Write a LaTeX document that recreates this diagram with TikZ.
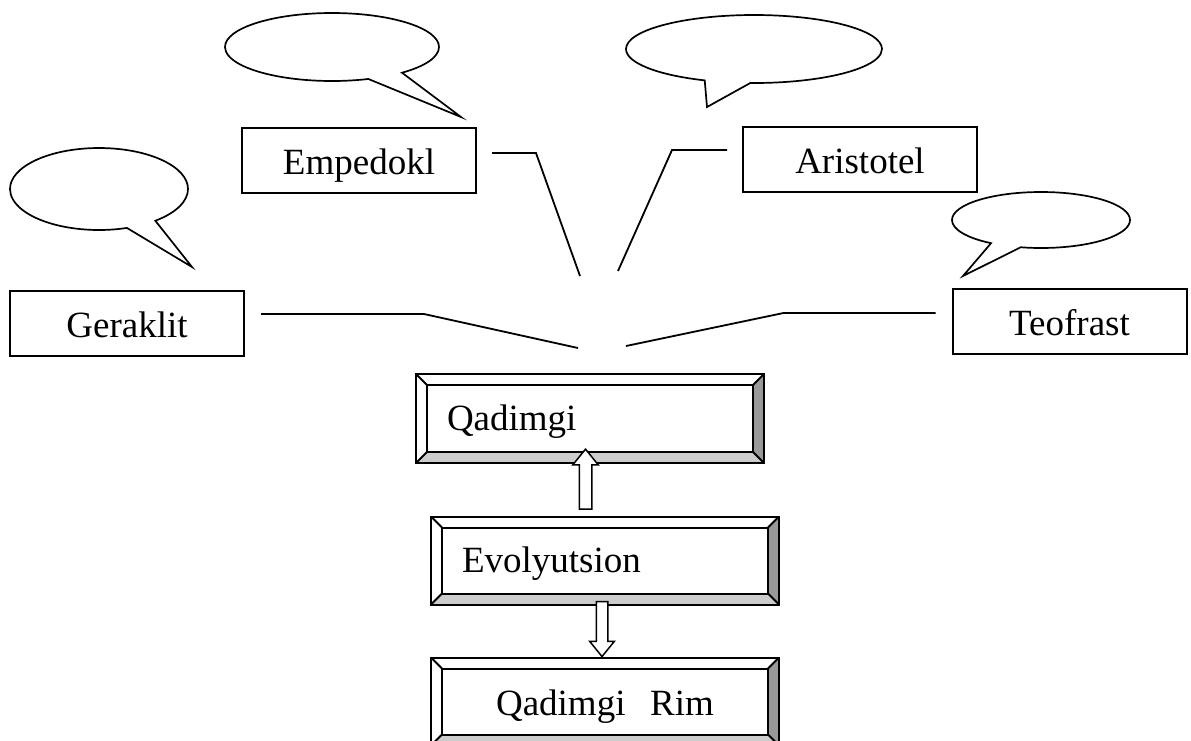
\documentclass[tikz,border=0pt]{standalone}
\usepackage{fontspec}
\setmainfont{Liberation Serif}
\usetikzlibrary{calc,shapes.callouts,shapes.arrows}

\begin{document}
\begin{tikzpicture}[x=1pt,y=-1pt,line width=2pt,
                name node/.style={rectangle,draw,fill=white,inner sep=0pt,text height=28pt,text depth=0pt,
                  minimum width=234pt,minimum height=65pt,font=\fontsize{37}{44}\selectfont},
                bevel node/.style={rectangle,inner xsep=30pt,inner ysep=0pt,text width=286pt,
                  text height=23pt,text depth=0pt,minimum height=86pt,align=left,font=\fontsize{37}{44}\selectfont},
                cloud node/.style={ellipse callout,draw,fill=white,inner sep=0pt,line width=1.7pt,callout pointer arc=21},
                fat arrow/.style={single arrow,draw,fill=white,line width=1.5pt,inner xsep=0pt,
                  single arrow tip angle=78},
                link/.style={line width=1.8pt}]
	\useasboundingbox (0,0) rectangle (1191,740);
	\clip (0,0) rectangle (1191,740);

	\node[name node] (gerak) at (127,323.5) {Geraklit};
	\node[name node] (emped) at (359,160.5) {Empedokl};
	\node[name node] (arist) at (860,159.5) {Aristotel};
	\node[name node] (teof) at (1069.5,321.5) {Teofrast};

	\node[cloud node,minimum width=178pt,minimum height=82pt,callout absolute pointer={(192,267)}] (c-gerak) at (99,189) {};
	\node[cloud node,minimum width=214pt,minimum height=68pt,callout absolute pointer={(461,117)}] (c-emped) at (332,47) {};
	\node[cloud node,minimum width=256pt,minimum height=68pt,callout absolute pointer={(707,107)}] (c-arist) at (754,49) {};
	\node[cloud node,minimum width=178pt,minimum height=56pt,callout absolute pointer={(963,276)}] (c-teof) at (1041,220) {};

	\node[bevel node,minimum height=87pt] (qad) at (590,418.5) {Qadimgi};
	\node[bevel node] (evo) at (605,560.5) {Evolyutsion};
	\node[bevel node,align=center,text height=27pt] (rim) at (605,701.5) {Qadimgi\ \ Rim};

	\foreach \b in {qad,evo,rim} {
		\coordinate (\b-nw) at ($(\b.north west)+(11,11)$);
		\coordinate (\b-ne) at ($(\b.north east)+(-11,11)$);
		\coordinate (\b-se) at ($(\b.south east)+(-11,-11)$);
		\coordinate (\b-sw) at ($(\b.south west)+(11,-11)$);
		\fill[black!40] (\b.north east) -- (\b.south east) -- (\b-se) -- (\b-ne) -- cycle;
		\fill[black!20] (\b.south west) -- (\b.south east) -- (\b-se) -- (\b-sw) -- cycle;
		\draw (\b.north west) rectangle (\b.south east);
		\draw (\b-nw) rectangle (\b-se);
		\draw (\b.north west) -- (\b-nw) (\b.north east) -- (\b-ne)
		      (\b.south east) -- (\b-se) (\b.south west) -- (\b-sw);
	}

	\coordinate (to-gerak) at (578,348);
	\coordinate (to-emped) at (580,276);
	\coordinate (to-arist) at (618,271);
	\coordinate (to-teof) at (626,346);

	\draw[link] ([shift={(16,-9.5)}]gerak.east) -- ++(163,0) -- (to-gerak);
	\draw[link] ([shift={(15,-7.5)}]emped.east) -- ++(44,0) -- (to-emped);
	\draw[link] ([shift={(-15,-9.5)}]arist.west) -- ++(-55,0) -- (to-arist);
	\draw[link] ([shift={(-16,-8.5)}]teof.west) -- ++(-152,0) -- (to-teof);

	\node[fat arrow,rotate=90,inner ysep=5.5pt,minimum height=60pt,single arrow head extend=6.5pt] (up) at (585.5,483) {};
	\node[fat arrow,rotate=-90,inner ysep=5pt,minimum height=55pt,single arrow head extend=6.5pt] (down) at (602,625.5) {};

\end{tikzpicture}
\end{document}
